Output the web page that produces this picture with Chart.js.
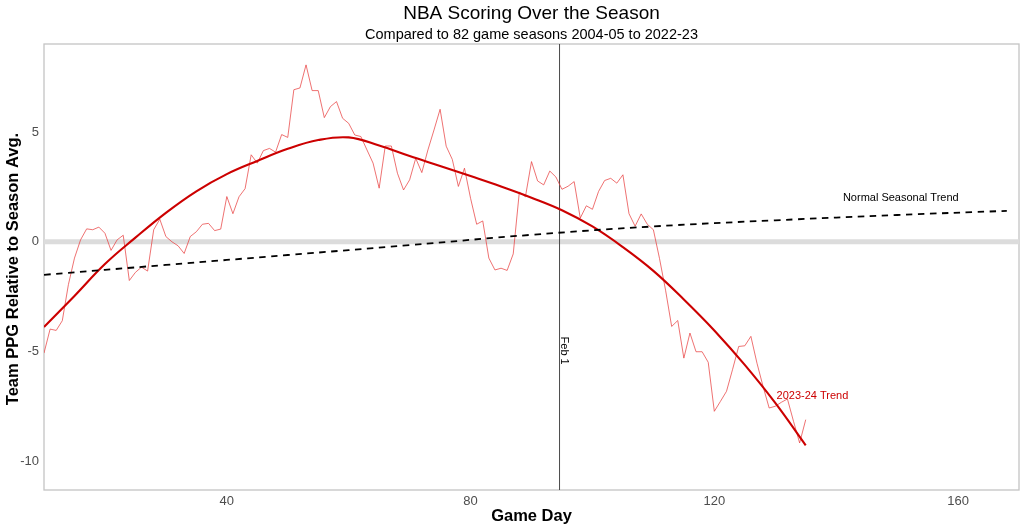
<!DOCTYPE html>
<html>
<head>
<meta charset="utf-8">
<script src="https://cdn.jsdelivr.net/npm/chart.js@4.4.1/dist/chart.umd.min.js"></script>
<style>
html,body{margin:0;padding:0;background:#fff;}
canvas{display:block;}
</style>
</head>
<body>
<canvas id="c" width="1024" height="529"></canvas>
<script>
// ---- data ----
const gameDays = [10,11,12,13,14,15,16,17,18,19,20,21,22,23,24,25,26,27,28,29,30,31,32,33,34,35,36,37,38,39,40,41,42,43,44,45,46,47,48,49,50,51,52,53,54,55,56,57,58,59,60,61,62,63,64,65,66,67,68,69,70,71,72,73,74,75,76,77,78,79,80,81,82,83,84,85,86,87,88,89,90,91,92,93,94,95,96,97,98,99,100,101,102,103,104,105,106,107,108,109,110,111,112,113,114,115,116,117,118,119,120,121,122,123,124,125,126,127,128,129,130,131,132,133,134,135];
const ppgRelative = [-5.06,-3.97,-4.03,-3.59,-1.95,-0.74,0.09,0.59,0.55,0.67,0.39,-0.39,0.09,0.30,-1.76,-1.39,-1.15,-1.33,0.55,1.03,0.24,0.00,-0.18,-0.53,0.24,0.46,0.80,0.84,0.51,0.58,2.06,1.28,2.05,2.42,3.96,3.58,4.15,4.25,4.08,4.88,4.75,6.92,7.00,8.05,6.88,6.88,5.65,6.15,6.38,5.62,5.39,4.86,4.79,4.18,3.58,2.44,4.36,4.36,3.12,2.36,2.82,3.80,3.15,4.18,5.09,6.03,4.35,3.75,2.52,3.35,1.98,0.80,0.95,-0.74,-1.28,-1.20,-1.30,-0.55,2.26,2.05,3.65,2.77,2.59,3.22,2.95,2.39,2.53,2.74,1.08,1.64,1.48,2.29,2.79,2.89,2.67,3.05,1.28,0.71,1.27,0.80,0.55,-0.75,-2.20,-3.85,-3.58,-5.29,-4.15,-5.00,-5.00,-5.48,-7.71,-7.26,-6.80,-5.80,-4.76,-4.73,-4.30,-5.52,-6.58,-7.56,-7.48,-7.30,-7.15,-8.17,-9.15,-8.09];

const trendDays = [10,15,20,25,30,35,40,45,50,55,60,65,70,75,80,85,90,95,100,105,110,115,120,125,130,135];
const trendValues = [-3.88,-2.46,-1.01,0.19,1.32,2.30,3.08,3.68,4.23,4.63,4.75,4.38,3.90,3.45,2.99,2.52,2.01,1.44,0.70,-0.24,-1.32,-2.62,-4.03,-5.60,-7.33,-9.26];

const normalDays = [10,30,50,70,90,110,130,150,168];
const normalValues = [-1.5,-1.05,-0.6,-0.15,0.32,0.7,0.98,1.22,1.41];

const xTicks = [40,80,120,160];
const yTicks = [-10,-5,0,5];
const feb1Day = 94.6;
const xRange = [10,170];
const yRange = [-11.29,9.0];

const titleText = "NBA Scoring Over the Season";
const subtitleText = "Compared to 82 game seasons 2004-05 to 2022-23";
const xTitle = "Game Day";
const yTitle = "Team PPG Relative to Season Avg.";
const normalLabel = {text:"Normal Seasonal Trend", x:150.6, y:2.0};
const trendLabel = {text:"2023-24 Trend", x:136.1, y:-7.0};
const feb1Label = {text:"Feb 1", y:-4.95};

// ---- build ----
const toXY = (xs, ys) => xs.map((x,i)=>({x:x, y:ys[i]}));
const FONT = "'Liberation Sans', Arial, sans-serif";

const textPlugin = {
  id:'texts',
  beforeDatasetsDraw(chart){
    const ctx = chart.ctx, a = chart.chartArea;
    ctx.save();
    ctx.strokeStyle = '#c4c4c4';
    ctx.lineWidth = 1.3;
    ctx.strokeRect(a.left, a.top, a.right-a.left, a.bottom-a.top);
    ctx.restore();
  },
  afterDraw(chart){
    const ctx = chart.ctx, a = chart.chartArea;
    const xs = chart.scales.x, ys = chart.scales.y;
    const cx = (a.left + a.right)/2;
    ctx.save();
    ctx.textAlign = 'center';
    ctx.textBaseline = 'alphabetic';
    ctx.fillStyle = '#000';
    ctx.font = "19px " + FONT;
    ctx.fillText(titleText, cx, 19);
    ctx.font = "14.5px " + FONT;
    ctx.fillText(subtitleText, cx, 39);
    ctx.font = "bold 16.5px " + FONT;
    ctx.textBaseline = 'middle';
    ctx.fillText(xTitle, cx, 516);
    ctx.save();
    ctx.translate(13, (a.top + a.bottom)/2 + 2);
    ctx.rotate(-Math.PI/2);
    ctx.fillText(yTitle, 0, 0);
    ctx.restore();
    ctx.font = "11px " + FONT;
    ctx.fillStyle = '#000';
    ctx.fillText(normalLabel.text, xs.getPixelForValue(normalLabel.x), ys.getPixelForValue(normalLabel.y));
    ctx.fillStyle = '#CC0000';
    ctx.fillText(trendLabel.text, xs.getPixelForValue(trendLabel.x), ys.getPixelForValue(trendLabel.y));
    ctx.save();
    ctx.fillStyle = '#000';
    ctx.translate(xs.getPixelForValue(feb1Day) + 4, ys.getPixelForValue(feb1Label.y));
    ctx.rotate(Math.PI/2);
    ctx.fillText(feb1Label.text, 0, 0);
    ctx.restore();
    ctx.restore();
  }
};

new Chart(document.getElementById('c'), {
  type:'line',
  data:{
    datasets:[
      {data: toXY(normalDays, normalValues), borderColor:'#000', borderWidth:1.8, borderDash:[6.5,5.5], tension:0.4, pointRadius:0, order:1},
      {data: toXY(trendDays, trendValues), borderColor:'#CC0000', borderWidth:2.1, tension:0.4, pointRadius:0, order:2},
      {data: toXY(gameDays, ppgRelative), borderColor:'rgba(232,60,60,0.72)', borderWidth:1, tension:0, pointRadius:0, order:3},
      {data: [{x:feb1Day,y:yRange[0]},{x:feb1Day,y:yRange[1]}], borderColor:'#4a4a4a', borderWidth:1, pointRadius:0, order:4},
      {data: [{x:xRange[0],y:0},{x:xRange[1],y:0}], borderColor:'#dcdcdc', borderWidth:5, pointRadius:0, order:5}
    ]
  },
  options:{
    responsive:false,
    animation:false,
    devicePixelRatio:1,
    layout:{padding:{top:44,right:5,left:0,bottom:0}},
    plugins:{legend:{display:false}, tooltip:{enabled:false}, title:{display:false}},
    scales:{
      x:{
        type:'linear', min:xRange[0], max:xRange[1],
        grid:{display:false, drawTicks:false}, border:{display:false},
        afterBuildTicks(s){ s.ticks = xTicks.map(v=>({value:v})); },
        afterFit(s){ s.height = 39; s.paddingLeft = 0; s.paddingRight = 0; },
        ticks:{color:'#4d4d4d', font:{size:13, family:FONT}, padding:4, maxRotation:0, autoSkip:false}
      },
      y:{
        type:'linear', min:yRange[0], max:yRange[1],
        grid:{display:false, drawTicks:false}, border:{display:false},
        afterBuildTicks(s){ s.ticks = yTicks.map(v=>({value:v})); },
        afterFit(s){ s.width = 44; s.paddingTop = 0; s.paddingBottom = 0; },
        ticks:{color:'#4d4d4d', font:{size:13, family:FONT}, padding:5, autoSkip:false}
      }
    }
  },
  plugins:[textPlugin]
});
</script>
</body>
</html>
